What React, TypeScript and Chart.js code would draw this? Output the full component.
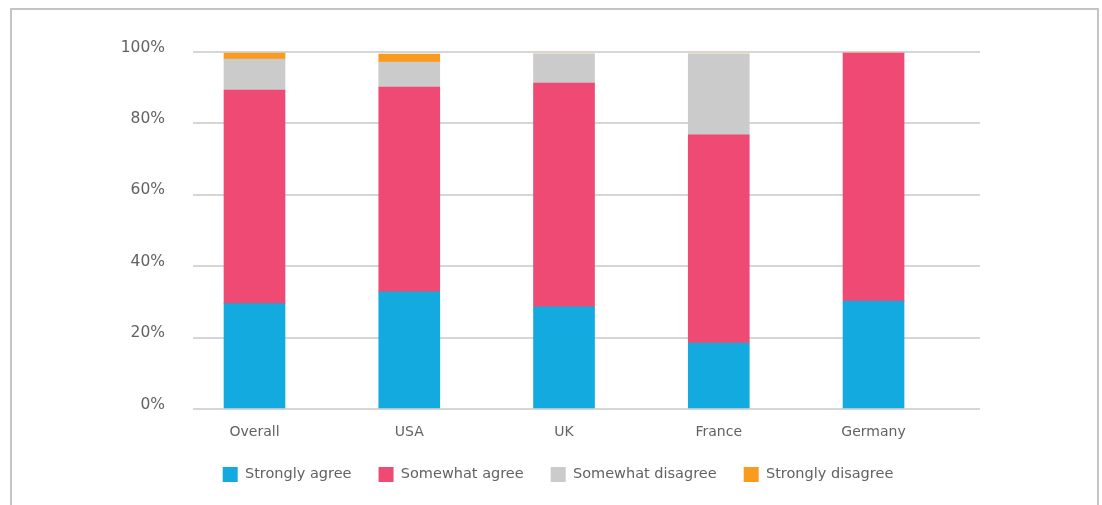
import { useEffect, useRef } from "react";
import { Chart, registerables } from "chart.js";

Chart.register(...registerables);

// Survey responses by market, share of respondents (%)
const categories = ["Overall", "USA", "UK", "France", "Germany"];
const stronglyAgree = [29.5, 32.8, 28.6, 18.5, 30.2];
const somewhatAgree = [59.8, 57.4, 62.7, 58.3, 69.5];
const somewhatDisagree = [8.7, 7.0, 8.1, 22.6, 0];
const stronglyDisagree = [1.7, 2.2, 0, 0, 0];

const seriesNames = ["Strongly agree", "Somewhat agree", "Somewhat disagree", "Strongly disagree"];
const seriesColors = ["#12aadf", "#ee4a73", "#cbcbcb", "#f89b1e"];

const FONT = "'DejaVu Sans', sans-serif";
const TEXT = "#626262";

export default function App() {
  const canvasRef = useRef<HTMLCanvasElement | null>(null);

  useEffect(() => {
    const canvas = canvasRef.current;
    if (!canvas) return;

    const series = [stronglyAgree, somewhatAgree, somewhatDisagree, stronglyDisagree];

    const chart = new Chart(canvas, {
      type: "bar",
      data: {
        datasets: series.map((values, si) => ({
          label: seriesNames[si],
          data: values.map((v, i) => ({ x: i, y: v })),
          backgroundColor: seriesColors[si],
          borderColor: seriesColors[si],
          borderWidth: 0,
          barThickness: 61,
        })),
      },
      options: {
        responsive: false,
        animation: false,
        devicePixelRatio: 1,
        layout: { padding: { left: 100, right: 86, top: 52, bottom: 13 } },
        plugins: {
          tooltip: { enabled: false },
          legend: {
            position: "bottom",
            align: "center",
            labels: {
              boxWidth: 15,
              boxHeight: 15,
              padding: 27,
              color: TEXT,
              font: { family: FONT, size: 14.5 },
            },
          },
        },
        scales: {
          x: {
            type: "linear",
            stacked: true,
            offset: false,
            min: -0.3974,
            max: 4.688,
            grid: { display: false, drawTicks: false, offset: false },
            border: { display: false },
            afterFit: (scale: any) => {
              scale.height = 31;
            },
            ticks: {
              stepSize: 1,
              includeBounds: false,
              autoSkip: false,
              maxRotation: 0,
              padding: 15,
              color: TEXT,
              font: { family: FONT, size: 14 },
              callback: (v: any) => categories[v as number] ?? "",
            },
          },
          y: {
            stacked: true,
            min: 0,
            max: 100,
            grid: { color: "#d6d6d6", lineWidth: 2, drawTicks: false },
            border: { display: false },
            afterFit: (scale: any) => {
              scale.width = 93;
            },
            ticks: {
              stepSize: 20,
              padding: 28,
              labelOffset: -4.5,
              color: TEXT,
              font: { family: FONT, size: 15.5 },
              callback: (v: any) => `${v}%`,
            },
          },
          // empty right-hand gutter so the legend row centres under the frame
          yGutter: {
            position: "right",
            min: 0,
            max: 100,
            grid: { display: false, drawTicks: false },
            border: { display: false },
            ticks: { display: false },
            afterFit: (scale: any) => {
              scale.width = 36;
            },
          },
        },
      },
    } as any);

    return () => chart.destroy();
  }, []);

  return (
    <div
      style={{
        position: "fixed",
        left: 0,
        top: 0,
        width: 1102,
        height: 505,
        overflow: "hidden",
        background: "#ffffff",
      }}
    >
      <div
        style={{
          position: "absolute",
          left: 10,
          top: 8,
          width: 1085,
          height: 600,
          border: "2px solid #c4c4c4",
        }}
      />
      <canvas
        ref={canvasRef}
        width={1102}
        height={505}
        style={{ position: "absolute", left: 0, top: 0, width: 1102, height: 505 }}
      />
    </div>
  );
}
